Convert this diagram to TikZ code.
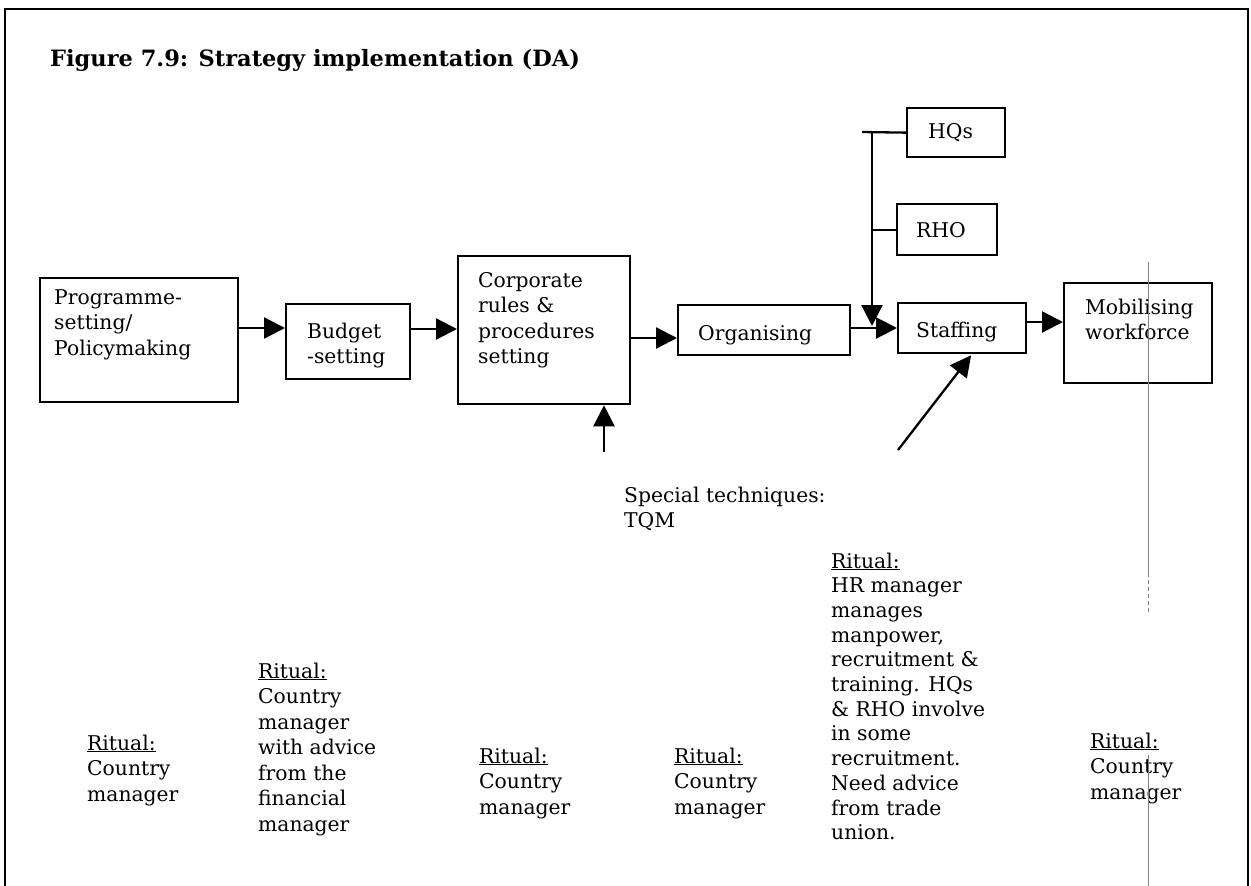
\documentclass[tikz,border=0pt]{standalone}
\usepackage{fontspec}
\setmainfont{DejaVu Serif}
\usetikzlibrary{arrows.meta,calc}
% stacked left-aligned lines, baseline on the first line
\newcommand\txtlines[1]{\begin{tabular}[t]{@{}l@{}}#1\end{tabular}}
\begin{document}
\begin{tikzpicture}[x=1pt,y=-1pt,
  box/.style={draw, line width=2.3pt, inner sep=0pt, anchor=north west},
  txt/.style={anchor=base west, inner sep=0pt, font=\fontsize{20.3}{25.5}\selectfont},
  flow/.style={line width=2.3pt, -{Triangle[length=21pt,width=21pt]}},
  plain/.style={line width=2.3pt},
  fold/.style={gray, line width=0.8pt}]
\useasboundingbox (0,0) rectangle (1251,886);

% outer frame (open at the bottom)
\draw[line width=2.5pt] (5,886) -- (5,9) -- (1248,9) -- (1248,886);

% title
\node[anchor=base west, inner sep=0pt, font=\bfseries\fontsize{22.5}{26}\selectfont] (title) at (50,66)
  {Figure 7.9: Strategy implementation (DA)};

% process boxes
\node[box, minimum width=198pt, minimum height=124pt] (prog)  at (39,277)  {};
\node[box, minimum width=124pt, minimum height=75pt]  (budget) at (285,303) {};
\node[box, minimum width=172pt, minimum height=148pt] (corp)  at (457,255) {};
\node[box, minimum width=172pt, minimum height=50pt]  (org)   at (677,304) {};
\node[box, minimum width=128pt, minimum height=50pt]  (staff) at (897,302) {};
\node[box, minimum width=148pt, minimum height=100pt] (mob)   at (1063,282) {};
\node[box, minimum width=98pt,  minimum height=49pt]  (hq)    at (906,107) {};
\node[box, minimum width=100pt, minimum height=51pt]  (rho)   at (896,203) {};

% box captions
\node[txt] (progT)   at (54,304)   {\txtlines{Programme-\\setting/\\Policymaking}};
\node[txt] (budgetT) at (307,338)  {\txtlines{Budget\\-setting}};
\node[txt] (corpT)   at (478,287)  {\txtlines{Corporate\\rules \&\\procedures\\setting}};
\node[txt] (orgT)    at (698,340)  {Organising};
\node[txt] (staffT)  at (916,337)  {Staffing};
\node[txt] (mobT)    at (1085,314) {\txtlines{Mobilising\\workforce}};
\node[txt] (hqT)     at (928,138)  {HQs};
\node[txt] (rhoT)    at (916,237)  {RHO};

% rows of the horizontal arrows
\coordinate (r1) at (0,328);
\coordinate (r2) at (0,329);
\coordinate (r3) at (0,338);
\coordinate (r4) at (0,328);
\coordinate (r5) at (0,322);

\draw[flow] (prog.east |- r1)   -- (budget.west |- r1);
\draw[flow] (budget.east |- r2) -- (corp.west |- r2);
\draw[flow] (corp.east |- r3)   -- (org.west |- r3);
\draw[flow] (org.east |- r4)    -- (staff.west |- r4);
\draw[flow] (staff.east |- r5)  -- (mob.west |- r5);

% HQs / RHO feed into staffing
\coordinate (busL) at (862,132);
\coordinate (bus)  at (872,132);
\coordinate (drop) at (872,326);
\draw[plain] (busL) -- (hq.west);
\draw[plain] (bus |- rho.west) -- (rho.west);
\draw[flow] (bus) -- (drop);

% incoming arrows from below
\coordinate (tqmfoot)  at (604,452);
\coordinate (diagfoot) at (898,450);
\draw[flow] (tqmfoot) -- (tqmfoot |- corp.south);
\draw[flow] (diagfoot) -- ($(staff.south)+(9,1)$);

% notes
\node[txt] (tqm) at (624,502) {\txtlines{Special techniques:\\TQM}};
\node[txt] (rit1) at (87,750)  {\txtlines{\underline{Ritual:}\\Country\\manager}};
\node[txt] (rit2) at (258,678) {\txtlines{\underline{Ritual:}\\Country\\manager\\with advice\\from the\\financial\\manager}};
\node[txt] (rit3) at (479,763) {\txtlines{\underline{Ritual:}\\Country\\manager}};
\node[txt] (rit4) at (674,763) {\txtlines{\underline{Ritual:}\\Country\\manager}};
\node[txt, font=\fontsize{20.3}{24.7}\selectfont] (rit5) at (831,568)
  {\txtlines{\underline{Ritual:}\\HR manager\\manages\\manpower,\\recruitment \&\\training. HQs\\\& RHO involve\\in some\\recruitment.\\Need advice\\from trade\\union.}};
\node[txt] (rit6) at (1090,748) {\txtlines{\underline{Ritual:}\\Country\\manager}};

% thin vertical fold line
\draw[fold] (1148,262) -- (1148,573);
\draw[fold, dash pattern=on 4pt off 3pt] (1148,573) -- (1148,613);
\draw[fold] (1148,755) -- (1148,886);
\end{tikzpicture}
\end{document}
